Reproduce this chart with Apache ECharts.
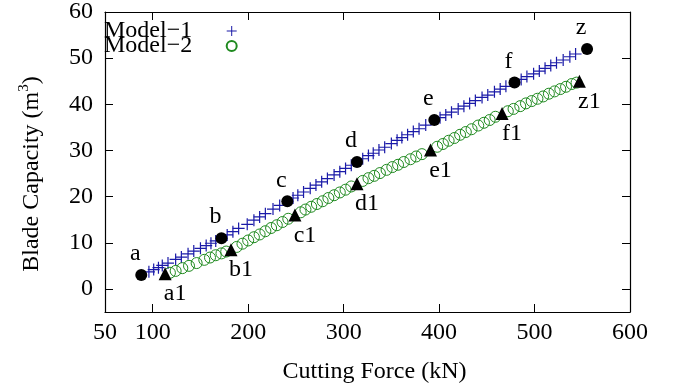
<!DOCTYPE html>
<html>
<head>
<meta charset="utf-8">
<script src="https://cdn.jsdelivr.net/npm/echarts@6/dist/echarts.min.js"></script>
<style>
  html, body { margin: 0; padding: 0; background: #ffffff; }
  #chart { width: 674px; height: 390px; }
</style>
</head>
<body>
<div id="chart"></div>
<script>
// Model-1 (blue plus) samples: cutting force (kN) / blade capacity (m^3)
const model1X = [96, 101, 106, 110, 116, 124, 130, 137, 143, 150, 156, 161, 166, 178, 184, 190, 199, 206, 212, 218,
  226, 233, 247, 252, 258, 265, 271, 277, 283, 290, 296, 302, 308, 320, 326, 331, 337, 343, 350, 356,
  361, 367, 373, 379, 386, 401, 407, 413, 420, 426, 432, 438, 445, 451, 458, 464, 470, 486, 492, 499,
  505, 511, 517, 523, 530, 537, 543];
const model1Y = [3.7, 4.2, 4.6, 5.1, 5.6, 6.4, 6.9, 7.6, 8.2, 8.8, 9.4, 9.9, 10.4, 11.7, 12.4, 13.1, 14.0, 14.9, 15.6, 16.3,
  17.3, 18.1, 19.7, 20.3, 21.0, 21.8, 22.5, 23.2, 23.9, 24.7, 25.4, 26.1, 26.8, 28.2, 28.9, 29.4, 30.1, 30.7, 31.5, 32.2,
  32.8, 33.4, 34.1, 34.7, 35.5, 37.1, 37.7, 38.3, 39.0, 39.6, 40.2, 40.8, 41.5, 42.0, 42.7, 43.3, 43.9, 45.4, 46.0, 46.6,
  47.2, 47.8, 48.4, 49.0, 49.6, 50.3, 50.9];

// Model-2 (green circle) samples
const model2X = [118, 124, 131, 138, 146, 154, 160, 166, 172, 177, 188, 194, 200, 206, 212, 218, 224, 230, 236, 242,
  255, 260, 266, 272, 278, 284, 290, 296, 302, 308, 320, 326, 332, 338, 345, 351, 357, 363, 370, 376,
  382, 398, 404, 410, 416, 422, 428, 434, 441, 447, 453, 459, 472, 478, 485, 491, 497, 503, 509, 515,
  521, 527, 533, 539, 544];
const model2Y = [3.5, 3.9, 4.5, 5.0, 5.6, 6.3, 6.8, 7.3, 7.7, 8.1, 9.1, 9.8, 10.5, 11.2, 11.8, 12.5, 13.2, 13.8, 14.5, 15.2,
  16.6, 17.2, 17.8, 18.4, 19.0, 19.7, 20.3, 20.9, 21.5, 22.2, 23.4, 24.0, 24.5, 25.1, 25.8, 26.4, 26.9, 27.5, 28.1, 28.7,
  29.2, 30.8, 31.4, 32.1, 32.7, 33.4, 34.0, 34.6, 35.4, 36.0, 36.6, 37.3, 38.5, 39.0, 39.6, 40.2, 40.7, 41.2, 41.7, 42.3,
  42.8, 43.3, 43.8, 44.4, 44.7];

// labelled points
const mark1Names = ['a', 'b', 'c', 'd', 'e', 'f', 'z'];
const mark1X = [88, 172, 241, 314, 395, 479, 555];
const mark1Y = [3.0, 11.0, 19.0, 27.5, 36.6, 44.7, 52.0];
const mark2Names = ['a1', 'b1', 'c1', 'd1', 'e1', 'f1', 'z1'];
const mark2X = [113, 182, 249, 314, 391, 466, 547];
const mark2Y = [3.3, 8.5, 16.0, 22.8, 30.1, 38.0, 45.0];

// axis ticks
const xLabelValues = [50, 100, 200, 300, 400, 500, 600];
const xTickValues = [100, 200, 300, 400, 500, 600];
const yTickValues = [0, 10, 20, 30, 40, 50, 60];

const FONT = '"Liberation Serif", "Times New Roman", Times, serif';
const BLUE = '#1a1aa8';
const GREEN = '#1f8a1f';
const PLUS = 'path://M0,4.5H10V5.5H0Z M4.5,0H5.5V10H4.5Z';

const zip = (xs, ys) => xs.map((x, i) => [x, ys[i]]);
const named = (names, xs, ys) => names.map((n, i) => ({ name: n, value: [xs[i], ys[i]] }));

const chart = echarts.init(document.getElementById('chart'), null, { renderer: 'canvas' });

const axisCommon = {
  axisLine: { show: true, onZero: false, lineStyle: { color: '#000', width: 1.2 } },
  axisTick: { show: true, inside: true, length: 8, lineStyle: { color: '#000', width: 1 } },
  splitLine: { show: false },
};

chart.setOption({
  animation: false,
  backgroundColor: '#ffffff',
  textStyle: { fontFamily: FONT },
  grid: { left: 105, right: 44, top: 11, bottom: 78 },
  legend: {
    orient: 'vertical',
    left: 104,
    top: 19,
    align: 'right',
    padding: 0,
    itemGap: -9,
    itemWidth: 11,
    itemHeight: 10,
    selectedMode: false,
    data: ['Model\u22121', 'Model\u22122'],
    textStyle: { fontFamily: FONT, fontSize: 24, color: '#000', padding: [0, 29, 0, 0] },
  },
  xAxis: [
    Object.assign({}, axisCommon, {
      type: 'value',
      min: 50,
      max: 600,
      position: 'bottom',
      axisTick: Object.assign({}, axisCommon.axisTick, { customValues: xTickValues }),
      axisLabel: { customValues: xLabelValues, fontFamily: FONT, fontSize: 24, color: '#000', margin: 9 },
      name: 'Cutting Force (kN)',
      nameLocation: 'middle',
      nameGap: 48,
      nameTextStyle: { fontFamily: FONT, fontSize: 24, color: '#000', padding: [0, 0, 0, 14] },
    }),
    Object.assign({}, axisCommon, {
      type: 'value',
      min: 50,
      max: 600,
      position: 'top',
      axisTick: Object.assign({}, axisCommon.axisTick, { customValues: xTickValues }),
      axisLabel: { show: false },
    }),
  ],
  yAxis: [
    Object.assign({}, axisCommon, {
      type: 'value',
      min: -5,
      max: 60,
      position: 'left',
      axisTick: Object.assign({}, axisCommon.axisTick, { customValues: yTickValues }),
      axisLabel: { customValues: yTickValues, fontFamily: FONT, fontSize: 24, color: '#000', margin: 12 },
      name: 'Blade Capacity (m{sup|3})',
      nameLocation: 'middle',
      nameRotate: 90,
      nameGap: 59,
      nameTextStyle: {
        fontFamily: FONT, fontSize: 24, color: '#000', padding: [0, 24, 0, 0],
        rich: { sup: { fontFamily: FONT, fontSize: 15, color: '#000', padding: [0, 0, 14, 0] } },
      },
    }),
    Object.assign({}, axisCommon, {
      type: 'value',
      min: -5,
      max: 60,
      position: 'right',
      axisTick: Object.assign({}, axisCommon.axisTick, { customValues: yTickValues }),
      axisLabel: { show: false },
    }),
  ],
  series: [
    {
      name: 'Model\u22121',
      type: 'scatter',
      symbol: PLUS,
      symbolSize: 12,
      itemStyle: { color: BLUE, opacity: 1 },
      data: zip(model1X, model1Y),
    },
    {
      name: 'Model\u22122',
      type: 'scatter',
      symbol: 'circle',
      symbolSize: 11,
      itemStyle: { color: 'rgba(0,0,0,0)', borderColor: GREEN, borderWidth: 1, opacity: 1 },
      data: zip(model2X, model2Y),
    },
    {
      name: 'points1',
      type: 'scatter',
      symbol: 'circle',
      symbolSize: 12,
      itemStyle: { color: '#000', opacity: 1 },
      label: {
        show: true, position: 'top', distance: 3, offset: [-6, 0], formatter: '{b}',
        fontFamily: FONT, fontSize: 24, color: '#000',
      },
      data: named(mark1Names, mark1X, mark1Y),
    },
    {
      name: 'points2',
      type: 'scatter',
      symbol: 'triangle',
      symbolSize: 13,
      itemStyle: { color: '#000', opacity: 1 },
      label: {
        show: true, position: 'bottom', distance: 2, offset: [10, 0], formatter: '{b}',
        fontFamily: FONT, fontSize: 24, color: '#000',
      },
      data: named(mark2Names, mark2X, mark2Y),
    },
  ],
});
</script>
</body>
</html>
